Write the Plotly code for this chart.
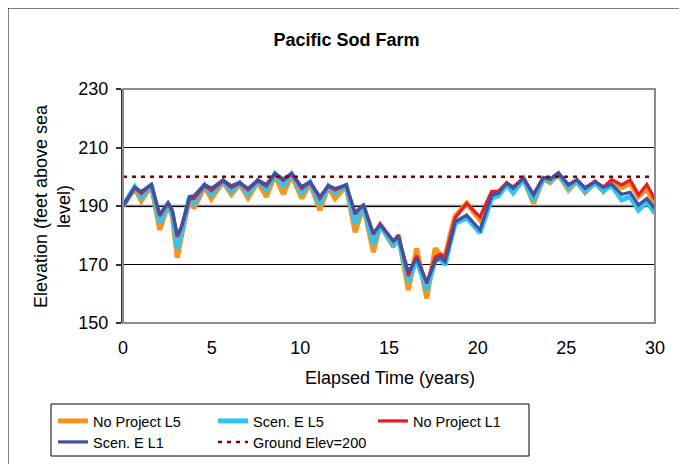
import plotly.graph_objects as go

# ---- data ----
years = [0, 0.66, 1.03, 1.6, 2.07, 2.54, 2.78, 3.06, 3.29, 3.76, 4.0, 4.6, 4.98, 5.64, 6.11,
         6.58, 7.05, 7.6, 8.08, 8.57, 9.04, 9.51, 10.08, 10.55, 11.1, 11.58, 11.96, 12.58,
         13.09, 13.56, 14.12, 14.5, 15.25, 15.53, 16.09, 16.56, 17.13, 17.6, 17.88, 18.16,
         18.44, 18.73, 19.38, 20.13, 20.8, 21.17, 21.64, 22.0, 22.58, 23.15, 23.7, 24.08,
         24.55, 25.12, 25.59, 26.06, 26.62, 27.09, 27.56, 28.12, 28.6, 29.07, 29.54, 30.0]

no_project_l5 = [190, 196.0, 191.8, 197.0, 181.8, 190.5, 186.5, 172.3, 179.5, 193.0, 189.2,
                 196.6, 192.5, 198.3, 194.0, 197.5, 192.8, 198.3, 193.2, 200.5, 194.0, 200.6,
                 192.6, 197.8, 188.6, 196.5, 192.6, 197.0, 181.0, 190.0, 174.2, 183.5, 176.1,
                 180.0, 161.3, 175.5, 158.4, 175.5, 173.5, 172.5, 180.0, 186.5, 190.9, 185.2,
                 194.5, 194.8, 197.5, 195.0, 199.3, 190.9, 199.3, 198.0, 200.8, 195.5, 198.4,
                 194.6, 198.0, 195.0, 198.5, 196.3, 197.8, 193.2, 196.0, 190.3]

scen_e_l5 = [190, 196.5, 193.0, 197.2, 184.2, 190.8, 187.5, 175.5, 180.5, 193.5, 191.0,
             197.0, 194.0, 198.5, 195.0, 197.8, 194.2, 198.6, 195.5, 200.8, 197.0, 200.8,
             194.5, 198.0, 190.5, 196.8, 194.5, 197.0, 184.0, 190.0, 177.0, 183.3, 176.8,
             179.2, 164.1, 171.8, 161.3, 171.5, 172.0, 169.8, 177.5, 184.0, 186.0, 180.8,
             192.8, 193.5, 197.3, 194.5, 199.2, 192.0, 199.4, 198.6, 201.0, 196.2, 198.6,
             195.0, 198.0, 195.3, 197.0, 192.1, 193.2, 188.6, 191.5, 187.5]

no_project_l1 = [190, 196.2, 194.3, 197.3, 186.6, 191.0, 188.3, 179.5, 182.5, 192.5, 192.5,
                 197.0, 195.3, 198.6, 196.3, 197.8, 195.5, 198.6, 196.8, 201.0, 198.7, 201.0,
                 196.0, 198.1, 192.6, 196.8, 195.5, 197.2, 187.2, 190.5, 180.3, 184.0, 178.0,
                 180.0, 166.1, 173.0, 163.5, 172.5, 173.5, 172.5, 179.0, 186.0, 190.9, 186.3,
                 195.0, 195.0, 198.0, 196.5, 199.6, 194.0, 199.7, 199.2, 201.3, 197.3, 199.0,
                 196.3, 198.5, 196.5, 199.0, 197.2, 198.9, 193.8, 197.4, 192.1]

scen_e_l1 = [190.0, 196.4, 194.9, 197.4, 187.2, 191.1, 188.6, 180.1, 182.9, 193.2, 193.5,
             197.4, 196.0, 198.9, 196.9, 198.1, 196.0, 198.9, 197.4, 201.2, 199.2, 201.2,
             196.6, 198.3, 193.2, 197.0, 196.0, 197.2, 187.8, 190.3, 180.7, 183.6, 178.0,
             179.5, 167.5, 172.1, 164.1, 171.0, 172.5, 171.0, 177.3, 184.6, 186.9, 181.8,
             193.8, 194.3, 197.8, 196.0, 199.5, 193.8, 199.7, 199.2, 201.2, 197.2, 198.9,
             196.0, 198.3, 196.3, 197.4, 194.0, 194.7, 190.3, 192.6, 189.0]

ground_x = [0, 30]
ground_y = [200, 200]

x_ticks = [0, 5, 10, 15, 20, 25, 30]
y_ticks = [150, 170, 190, 210, 230]

FONT = "Liberation Sans, Arial, sans-serif"

fig = go.Figure()
fig.add_trace(go.Scatter(x=years, y=no_project_l5, mode="lines", name="No Project L5",
                         line=dict(color="#F7941D", width=5), legend="legend"))
fig.add_trace(go.Scatter(x=years, y=scen_e_l5, mode="lines", name="Scen. E L5",
                         line=dict(color="#33C3F0", width=5), legend="legend"))
fig.add_trace(go.Scatter(x=years, y=no_project_l1, mode="lines", name="No Project L1",
                         line=dict(color="#ED1C24", width=3.2), legend="legend"))
fig.add_trace(go.Scatter(x=years, y=scen_e_l1, mode="lines", name="Scen. E L1",
                         line=dict(color="#3F51A3", width=3.2), legend="legend2"))
fig.add_trace(go.Scatter(x=ground_x, y=ground_y, mode="lines", name="Ground Elev=200",
                         line=dict(color="#800000", width=2.5, dash="4px,5px"),
                         legend="legend2"))

# page body has an 8px margin; figure coords = screen coords - OFF
OFF = 8
W, H = 687 - OFF, 464 - OFF
L, T = 123 - OFF, 89 - OFF
R = W - (655 - OFF)
B = H - (323 - OFF)
pw, ph = W - L - R, H - T - B

def px(sx):
    return (sx - OFF - L) / pw

def py(sy):
    return (H - B - (sy - OFF)) / ph

shapes = [
    # outer chart border
    dict(type="rect", xref="paper", yref="paper", x0=px(8), x1=px(685), y0=py(480), y1=py(8),
         line=dict(color="black", width=1), layer="below"),
    # legend box
    dict(type="rect", xref="paper", yref="paper", x0=px(51), x1=px(529), y0=py(456), y1=py(404),
         line=dict(color="black", width=1), layer="above"),
    # gray line at 190
    dict(type="line", xref="paper", yref="y", x0=0, x1=1, y0=190, y1=190,
         line=dict(color="#888888", width=2.5), layer="between"),
    # plot area border (gray)
    dict(type="rect", xref="paper", yref="paper", x0=0, x1=1, y0=0, y1=1,
         line=dict(color="#8C8C8C", width=2), layer="above"),
]

legend_common = dict(orientation="h", xanchor="left", yanchor="top",
                     borderwidth=0, bgcolor="rgba(0,0,0,0)",
                     font=dict(size=14.5, family=FONT), entrywidth=115,
                     entrywidthmode="pixels", traceorder="normal", itemwidth=30,
                     tracegroupgap=0)

fig.update_layout(
    template="none",
    width=W, height=H,
    margin=dict(l=L, r=R, t=T, b=B, autoexpand=False),
    paper_bgcolor="white", plot_bgcolor="white",
    font=dict(family=FONT, size=18, color="black"),
    title=dict(text="<b>Pacific Sod Farm</b>", x=(346.5 - OFF) / W, xanchor="center",
               y=1 - (40 - OFF) / H, yanchor="middle", font=dict(size=18, family=FONT)),
    showlegend=True,
    legend=dict(x=px(53), y=py(405), **legend_common),
    legend2=dict(x=px(53), y=py(426), **legend_common),
    shapes=shapes,
    annotations=[
        dict(text="Elevation (feet above sea<br>level)", xref="paper", yref="paper",
             x=px(52), y=py(206), xanchor="center", yanchor="middle", textangle=-90,
             showarrow=False, font=dict(size=18, family=FONT), align="center"),
        dict(text="Elapsed Time (years)", xref="paper", yref="paper",
             x=px(390), y=py(378), xanchor="center", yanchor="middle",
             showarrow=False, font=dict(size=18, family=FONT)),
    ],
)

fig.update_xaxes(range=[0, 30], tickvals=x_ticks, ticktext=[str(v) for v in x_ticks],
                 showgrid=False, zeroline=False, showline=False, ticks="",
                 automargin=False,
                 ticklabelstandoff=12, tickfont=dict(size=18, family=FONT))
fig.update_yaxes(range=[150, 230], tickvals=y_ticks, ticktext=[str(v) for v in y_ticks],
                 showgrid=True, gridcolor="black", gridwidth=1, zeroline=False,
                 showline=True, linecolor="#333333", linewidth=2, mirror=False,
                 automargin=False,
                 ticks="outside", ticklen=5, tickcolor="#333333", tickwidth=1.5,
                 ticklabelstandoff=4, tickfont=dict(size=18, family=FONT))

fig.write_html("out.html")
